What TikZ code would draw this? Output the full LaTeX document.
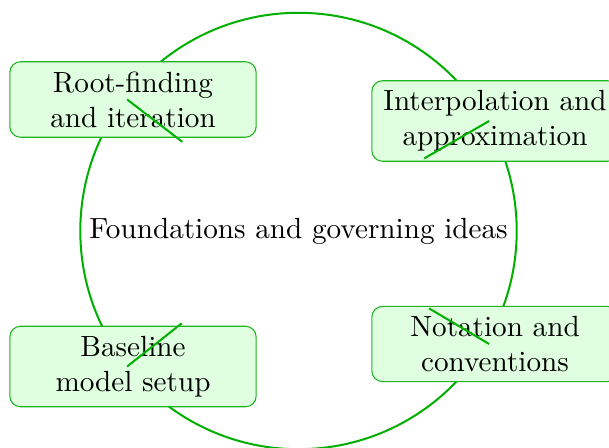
\documentclass[tikz,border=0pt]{standalone}
\usepackage{tikz}
\usetikzlibrary{calc}
\definecolor{ringgreen}{RGB}{0,175,0}
\definecolor{boxfill}{RGB}{224,255,224}
\definecolor{boxline}{RGB}{30,180,30}

\begin{document}
\begin{tikzpicture}[
  x=0.3735pt, y=-0.3735pt,
  font=\fontsize{10.9}{13}\selectfont,
  topic/.style={draw=boxline, fill=boxfill, rounded corners=4pt, minimum width=92pt, minimum height=27pt, align=center, inner ysep=3.7pt},
  spoke/.style={draw=ringgreen, line width=0.75pt}
]
\useasboundingbox (0,0) rectangle (609,448);
\node (hub) at (298.5,231) {Foundations and governing ideas};
\draw[ringgreen, line width=0.75pt] (hub.center) circle[radius=81.5pt];
\node[topic] (root) at (133,99.5) {Root-finding\\and iteration};
\node[topic] (interp) at (495,121) {Interpolation and\\approximation};
\node[topic] (notation) at (495,344) {Notation and\\conventions};
\node[topic] (base) at (133,366.5) {Baseline\\model setup};
\foreach \t/\len in {root/26pt,interp/28pt,notation/26pt,base/26pt}
  \draw[spoke] ([xshift=-2.2pt]\t.center) -- ($([xshift=-2.2pt]\t.center)!\len!(hub.center)$);
\end{tikzpicture}
\end{document}
